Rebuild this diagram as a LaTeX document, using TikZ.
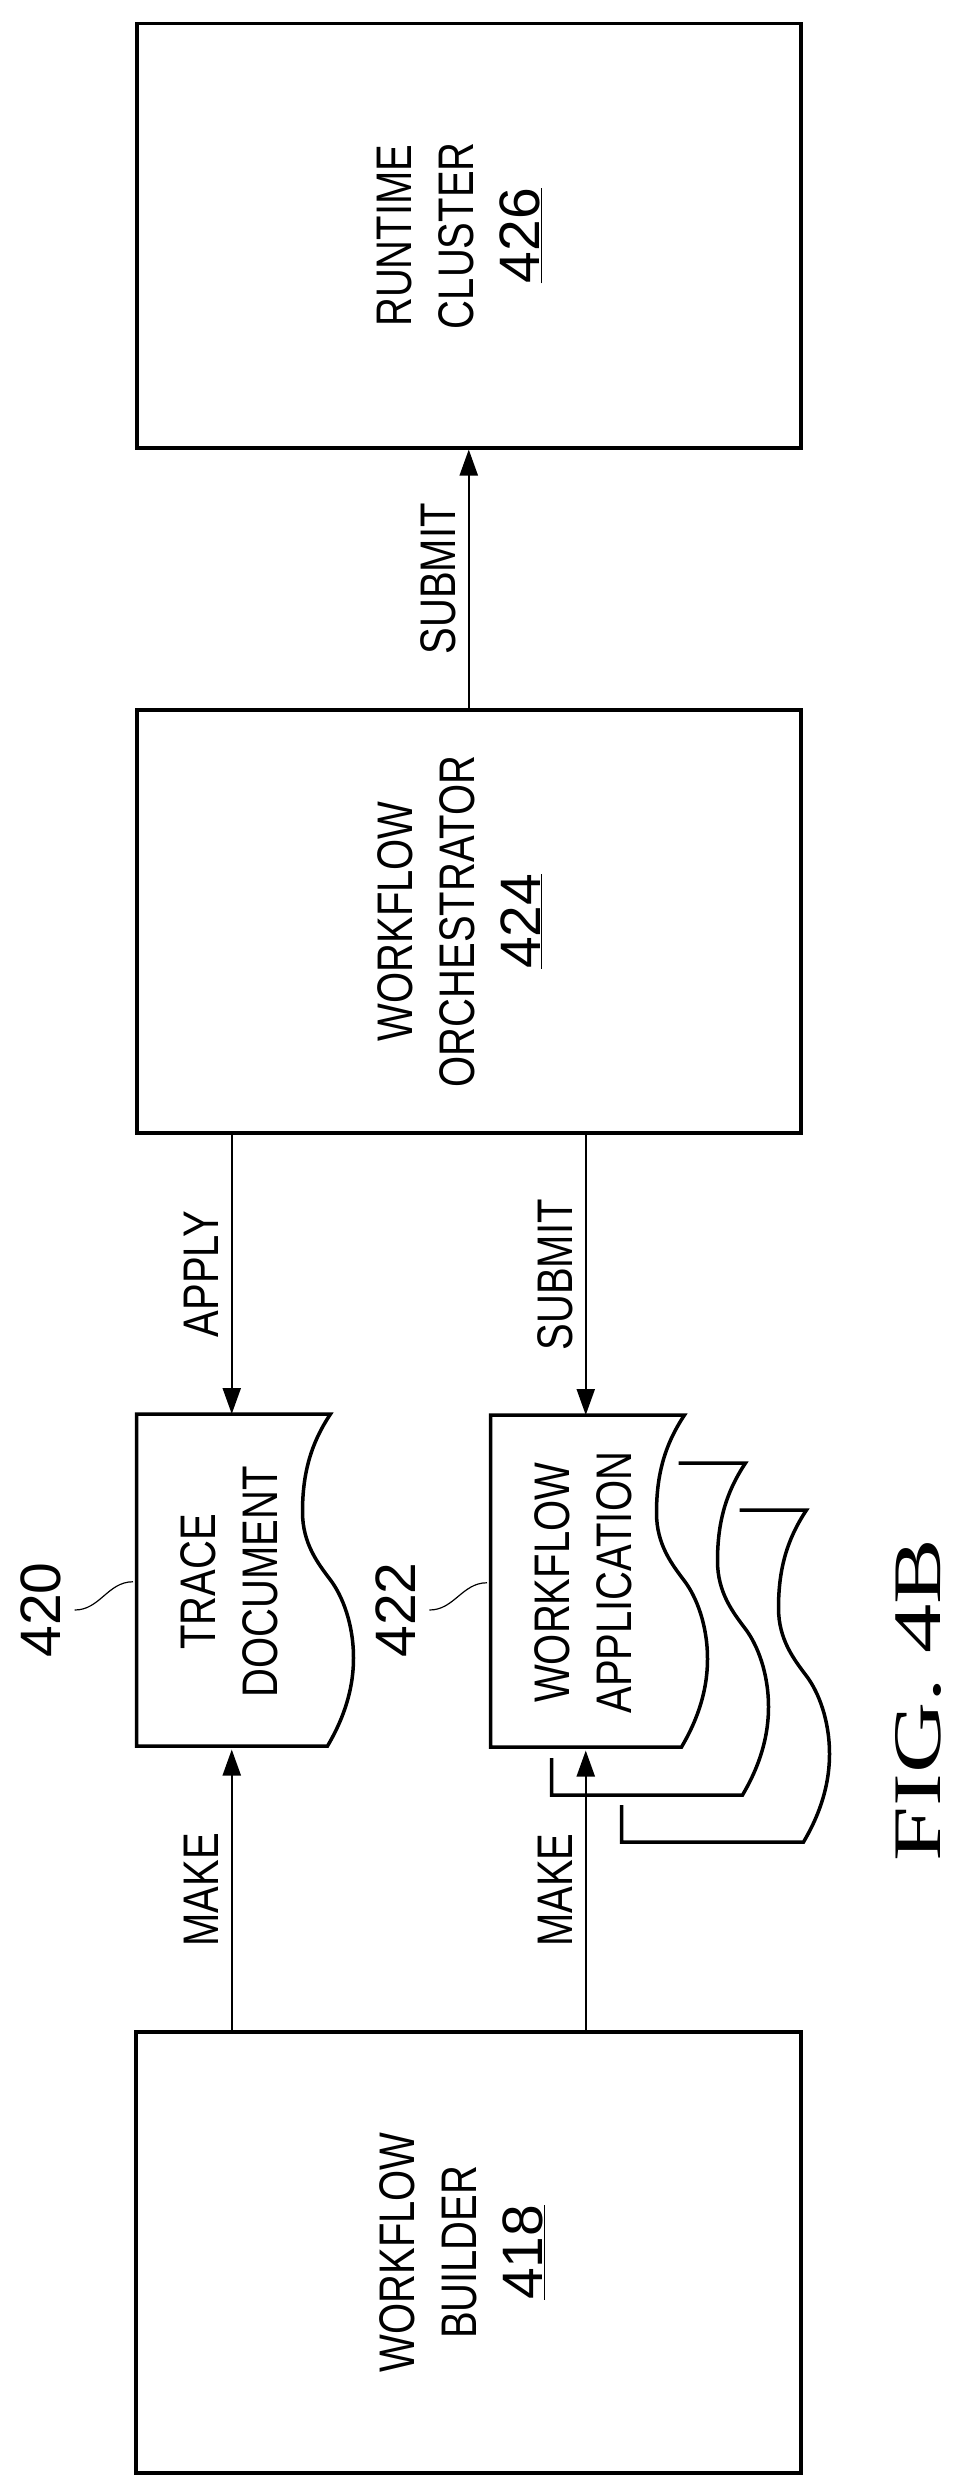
\documentclass[tikz,border=0pt]{standalone}
\usepackage{fontspec}
\setmainfont{Liberation Sans}
\newfontfamily\narrowfont[FakeStretch=0.8]{Liberation Sans}
\newfontfamily\figfont[FakeStretch=1.45]{Liberation Serif}
\usetikzlibrary{arrows.meta,positioning}

\tikzset{
  box/.style={draw, line width=3.5pt, rectangle, inner sep=0pt, anchor=north west},
  page/.style={draw, line width=3.5pt, rectangle, inner sep=0pt, anchor=north west,
    minimum width=194pt, minimum height=332pt},
  pagewave/.style={line width=3.5pt, fill=white},
  boxtext/.style={rotate=90, align=center, font=\fontsize{50}{62}\selectfont\narrowfont},
  flow/.style={-{Triangle[width=18pt,length=26pt]}, line width=2.2pt},
  flowtext/.style={rotate=90, midway, anchor=south, inner sep=12pt,
    font=\fontsize{50}{60}\selectfont\narrowfont},
  refnum/.style={rotate=90, font=\fontsize{57}{60}\selectfont},
  lead/.style={line width=1.2pt}
}
\newcommand{\num}[1]{{\fontsize{57}{62}\selectfont\setmainfont{Liberation Sans}\underline{#1}}}

\begin{document}
\begin{tikzpicture}[x=1pt, y=-1pt]
  \useasboundingbox (0,0) rectangle (959,2478);

  % main blocks
  \node[box, minimum width=664pt, minimum height=424pt] (runtime) at (135,22) {};
  \node[box, minimum width=664pt, minimum height=423pt] (orch) at (135,708) {};
  \node[box, minimum width=665pt, minimum height=441pt] (builder) at (134,2030) {};

  \node[boxtext] at ([xshift=-9pt]runtime.center) {RUNTIME\\CLUSTER\\[4pt]\num{426}};
  \node[boxtext] at ([xshift=-9pt]orch.center) {WORKFLOW\\ORCHESTRATOR\\[4pt]\num{424}};
  \node[boxtext] at ([xshift=-6pt]builder.center) {WORKFLOW\\BUILDER\\[4pt]\num{418}};

  % documents (stacked copies behind the application)
  \node[page, draw=none] (trace) at (133,1414) {};
  \node[page, draw=none] (app) at (487,1415) {};

  \foreach \dx/\dy/\bx in {122/95/-185, 61/48/-194} {
    \draw[line width=3.5pt, shift={(app.north east)}, shift={(\dx,\dy)}]
      (-67,0) -- (0,0) .. controls (-20,30) and (-28,60) .. (-28,98)
      .. controls (-28,130) and (-12,150) .. (0,166)
      .. controls (12,182) and (23,210) .. (23,244)
      .. controls (23,280) and (10,310) .. (-3,332) -- (\bx,332) -- (\bx,295);
  }
  \foreach \d in {trace, app} {
    \draw[pagewave, shift={(\d.north east)}]
      (-194,0) -- (0,0) .. controls (-20,30) and (-28,60) .. (-28,98)
      .. controls (-28,130) and (-12,150) .. (0,166)
      .. controls (12,182) and (23,210) .. (23,244)
      .. controls (23,280) and (10,310) .. (-3,332) -- (-194,332) -- cycle;
  }
  \node[boxtext] at ([xshift=-2pt]trace.center) {TRACE\\DOCUMENT};
  \node[boxtext] at ([xshift=-2pt]app.center) {WORKFLOW\\APPLICATION};

  % reference numerals
  \node[refnum] (n420) at (41,1610) {420};
  \node[refnum] (n422) at (396,1610) {422};
  \draw[lead] ([xshift=10pt]n420.south) to[out=0, in=180] (trace.west);
  \draw[lead] ([xshift=10pt]n422.south) to[out=0, in=180] (app.west);

  % connectors
  \draw[flow] (orch.north) -- node[flowtext]{SUBMIT} (runtime.south);
  \draw[flow] (trace.north |- orch.south) -- node[flowtext]{APPLY} (trace.north);
  \draw[flow] (app.north |- orch.south) -- node[flowtext]{SUBMIT} (app.north);
  \draw[flow] (trace.south |- builder.north) -- node[flowtext]{MAKE} (trace.south);
  \draw[flow] (app.south |- builder.north) -- node[flowtext]{MAKE} (app.south);

  \node[rotate=90, font=\fontsize{68}{70}\selectfont\figfont] (fig) at (918,1700) {FIG. 4B};
\end{tikzpicture}
\end{document}
